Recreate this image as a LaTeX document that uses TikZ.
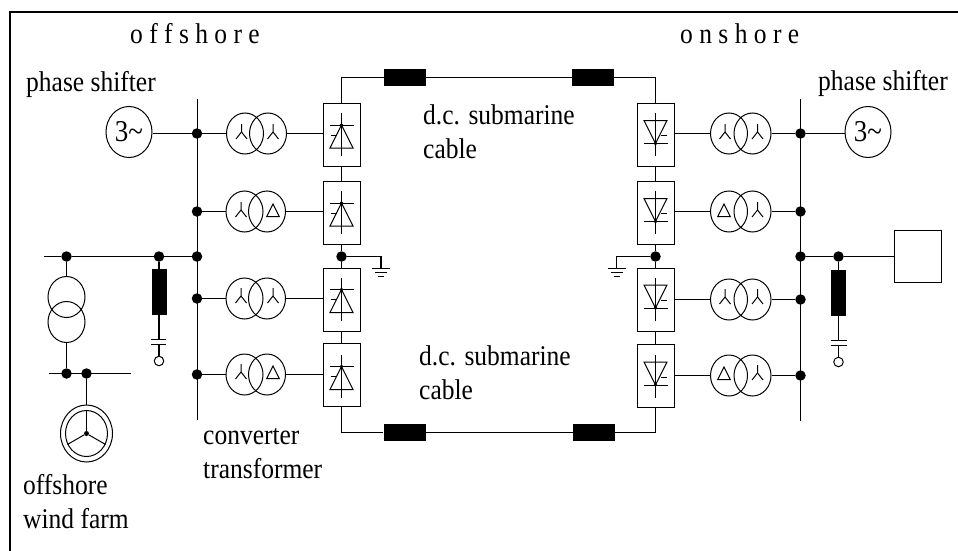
\documentclass[tikz,border=0pt]{standalone}
\usepackage{tikz}
\usepackage{xcolor}
\usepackage{fontspec}
\setmainfont{Liberation Serif}
\usetikzlibrary{shapes.geometric}

\tikzset{
  wire/.style={line width=1.1pt},
  label/.style={inner sep=0pt,anchor=base west,font=\fontsize{25.5}{29.5}\selectfont,align=left,yscale=1.12,transform shape},
  dotnode/.style={circle,fill=black,draw=none,minimum size=10.5pt,inner sep=0pt},
  winding/.style={ellipse,draw=black,line width=1pt,minimum width=37pt,minimum height=41pt,inner sep=0pt},
  genset/.style={ellipse,draw=black,line width=1pt,minimum width=46pt,minimum height=51pt,inner sep=0pt,font=\fontsize{27}{30}\selectfont},
  valvebox/.style={rectangle,draw=black,line width=1pt,minimum width=37pt,minimum height=63pt,inner sep=0pt},
  cablebox/.style={rectangle,fill=black,draw=none,minimum width=42pt,minimum height=16.5pt,inner sep=0pt},
  reactor/.style={rectangle,fill=black,draw=none,minimum width=15pt,minimum height=46pt,inner sep=0pt},
  terminal/.style={circle,draw=black,line width=1pt,minimum size=9.5pt,inner sep=0pt},
  plate/.style={line width=1pt},
  % winding symbols, star and delta
  stary/.pic={\draw[line width=1pt] (0,-10) -- (0,-2) -- (-5.5,5); \draw[line width=1pt] (0,-2) -- (5.5,5);},
  deltay/.pic={\draw[line width=1pt] (0,-8) -- (-6.3,4.5) -- (6.3,4.5) -- cycle;},
  % thyristor symbols
  valveup/.pic={
    \draw[line width=1pt] (0,-21.5) -- (0,21.5);
    \draw[line width=1pt] (-12,-9.5) -- (12,-9.5);
    \draw[line width=1pt] (0,-9.5) -- (-11.5,13.5) -- (11.5,13.5) -- cycle;
    \draw[line width=1pt] (-11,0.5) -- (-5,0.5);
    \fill (0,-9.5) circle (1.8);},
  valvedown/.pic={
    \draw[line width=1pt] (0,-21.5) -- (0,21.5);
    \draw[line width=1pt] (-12,9) -- (12,9);
    \draw[line width=1pt] (0,9) -- (-11.5,-14) -- (11.5,-14) -- cycle;
    \draw[line width=1pt] (11,1) -- (5,1);
    \fill (0,9) circle (1.8);},
}

\begin{document}
\begin{tikzpicture}[x=1pt,y=-1pt]
\useasboundingbox (0,0) rectangle (958,551);
\draw[line width=1.7pt] (958,12) -- (10,12) -- (10,551);

% labels
\node[label] (offlabel) at (130,44) {o f f s h o r e};
\node[label] (onlabel) at (680,44) {o n s h o r e};
\node[label] (leftshifter) at (26,91) {phase shifter};
\node[label] (rightshifter) at (818,90) {phase shifter};
\node[label] (uppercable) at (423,158) {d.c. submarine\\cable};
\node[label] (lowercable) at (419,399) {d.c. submarine\\cable};
\node[label] (convlabel) at (203,478) {converter\\transformer};
\node[label] (farmlabel) at (23,528) {offshore\\wind farm};

% offshore bus
\coordinate (offtop) at (197.5,99);
\coordinate (offbottom) at (197.5,420);
\draw[wire] (offtop) -- (offbottom);
\node[dotnode] (offa) at (197,133.5) {};
\node[dotnode] (offb) at (197,211.5) {};
\node[dotnode] (offc) at (197,256.5) {};
\node[dotnode] (offd) at (197,298.5) {};
\node[dotnode] (offe) at (197,374.5) {};
\node[genset] (offgen) at (129,132) {\scalebox{1}[1.12]{3\char`~}};
\draw[wire] (offgen.east |- offa) -- (offa);

% offshore converter transformers
\node[winding] (offal) at (245,133.5) {};
\node[winding] (offar) at (268,133.5) {};
\node[winding] (offbl) at (244.5,211.5) {};
\node[winding] (offbr) at (267,211.5) {};
\node[winding] (offdl) at (244.5,298.5) {};
\node[winding] (offdr) at (267,298.5) {};
\node[winding] (offel) at (244.5,374.5) {};
\node[winding] (offer) at (267,374.5) {};
\pic at (241.5,134) {stary};
\pic at (273,134) {stary};
\pic at (241,212) {stary};
\pic at (273,212) {deltay};
\pic at (241,298) {stary};
\pic at (273,298) {stary};
\pic at (241,374) {stary};
\pic at (273,374) {deltay};

% offshore converters
\node[valvebox] (vala) at (341.5,134.5) {};
\node[valvebox] (valb) at (341.5,212.5) {};
\node[valvebox] (valc) at (341.5,299.5) {};
\node[valvebox] (vald) at (341.5,375) {};
\pic at (341.5,134.5) {valveup};
\pic at (341.5,212.5) {valveup};
\pic at (341.5,299) {valveup};
\pic at (341.5,376) {valveup};
\draw[wire] (offa) -- (offal);
\draw[wire] (offb) -- (offbl);
\draw[wire] (offd) -- (offdl);
\draw[wire] (offe) -- (offel);
\draw[wire] (offar) -- (vala.west |- offar);
\draw[wire] (offbr) -- (valb.west |- offbr);
\draw[wire] (offdr) -- (valc.west |- offdr);
\draw[wire] (offer) -- (vald.west |- offer);
\draw[wire] (vala) -- (valb);
\draw[wire] (valc) -- (vald);
\node[dotnode] (offmid) at (341.5,256.5) {};
\draw[wire] (valb) -- (offmid) -- (valc);

% offshore earth
\coordinate (offearth) at (381,268);
\draw[wire] (offmid) -| (offearth);
\draw[plate] (372,268.5) -- (390,268.5);
\draw[plate] (375,272.5) -- (387,272.5);
\draw[plate] (378,276.5) -- (384,276.5);

% wind farm side
\coordinate (farmwest) at (44,256.5);
\node[dotnode] (farmtop) at (66.5,256.5) {};
\node[dotnode] (offfilter) at (159,256.5) {};
\draw[wire] (farmwest) -- (farmtop) -- (offfilter) -- (offc);
\node[winding] (farmta) at (66.5,297) {};
\node[winding] (farmtb) at (66.5,322) {};
\draw[wire] (farmtop) -- (farmta);
\coordinate (farmbusw) at (49,373.5);
\coordinate (farmbuse) at (131,373.5);
\draw[wire] (farmbusw) -- (farmbuse);
\node[dotnode] (farmbelow) at (66.5,373.5) {};
\node[dotnode] (farmfeed) at (86.5,373.5) {};
\draw[wire] (farmtb) -- (farmbelow);
\node[ellipse,draw=black,line width=1pt,minimum width=52pt,minimum height=57pt,inner sep=0pt] (turbine) at (86.5,433.5) {};
\node[ellipse,draw=black,line width=1pt,minimum width=42pt,minimum height=46pt,inner sep=0pt] (rotor) at (86.5,433.5) {};
\node[circle,fill=black,minimum size=5pt,inner sep=0pt] (hub) at (86.5,433.5) {};
\draw[wire] (farmfeed) -- (turbine);
\draw[line width=1pt] (hub) -- (rotor.north);
\draw[line width=1pt] (hub) -- (rotor.-150);
\draw[line width=1pt] (hub) -- (rotor.-30);

% offshore filter
\node[reactor] (offreactor) at (159,292) {};
\node[terminal] (offterm) at (159,361) {};
\coordinate (offcapa) at (159,339);
\coordinate (offcapb) at (159,344);
\draw[wire] (offfilter) -- (offreactor);
\draw[wire] (offreactor.south) -- (offcapa);
\draw[wire] (offcapb) -- (offterm);
\draw[plate] (151,339) -- (166,339);
\draw[plate] (151,344) -- (166,344);

% onshore bus
\coordinate (ontop) at (800.5,99);
\coordinate (onbottom) at (800.5,421);
\draw[wire] (ontop) -- (onbottom);
\node[dotnode] (ona) at (800.5,133.5) {};
\node[dotnode] (onb) at (800.5,211.5) {};
\node[dotnode] (onc) at (800.5,256.5) {};
\node[dotnode] (ond) at (800.5,299.5) {};
\node[dotnode] (one) at (800.5,375.5) {};
\node[genset] (ongen) at (868,132) {\scalebox{1}[1.12]{3\char`~}};
\draw[wire] (ongen.west |- ona) -- (ona);

% onshore converter transformers
\node[winding] (onal) at (729,133.5) {};
\node[winding] (onar) at (752.5,133.5) {};
\node[winding] (onbl) at (729,211.5) {};
\node[winding] (onbr) at (752.5,211.5) {};
\node[winding] (ondl) at (729,299.5) {};
\node[winding] (ondr) at (752.5,299.5) {};
\node[winding] (onel) at (729,375.5) {};
\node[winding] (oner) at (752.5,375.5) {};
\pic at (725,134) {stary};
\pic at (757.5,134) {stary};
\pic at (724,212) {deltay};
\pic at (757.5,212) {stary};
\pic at (725,299) {stary};
\pic at (757.5,299) {stary};
\pic at (724,375) {deltay};
\pic at (757.5,375) {stary};

% onshore converters
\node[valvebox] (vale) at (655.5,134.5) {};
\node[valvebox] (valf) at (655.5,212.5) {};
\node[valvebox] (valg) at (655.5,300) {};
\node[valvebox] (valh) at (655.5,376) {};
\pic at (655.5,134.5) {valvedown};
\pic at (655.5,212.5) {valvedown};
\pic at (655.5,299) {valvedown};
\pic at (655.5,376) {valvedown};
\draw[wire] (ona) -- (onar);
\draw[wire] (onb) -- (onbr);
\draw[wire] (ond) -- (ondr);
\draw[wire] (one) -- (oner);
\draw[wire] (onal) -- (vale.east |- onal);
\draw[wire] (onbl) -- (valf.east |- onbl);
\draw[wire] (ondl) -- (valg.east |- ondl);
\draw[wire] (onel) -- (valh.east |- onel);
\draw[wire] (vale) -- (valf);
\draw[wire] (valg) -- (valh);
\node[dotnode] (onmid) at (655.5,256.5) {};
\draw[wire] (valf) -- (onmid) -- (valg);

% onshore earth
\coordinate (onearth) at (616.5,268);
\draw[wire] (onmid) -| (onearth);
\draw[plate] (607.5,268.5) -- (625.5,268.5);
\draw[plate] (610.5,272.5) -- (622.5,272.5);
\draw[plate] (613.5,276.5) -- (619.5,276.5);

% onshore filter and load
\node[rectangle,draw=black,line width=1pt,minimum width=47pt,minimum height=51.5pt,inner sep=0pt] (grid) at (918,256.5) {};
\node[dotnode] (onfilter) at (838.5,256.5) {};
\draw[wire] (onc) -- (onfilter) -- (grid);
\node[reactor] (onreactor) at (838.5,293) {};
\node[terminal] (onterm) at (838.5,362) {};
\coordinate (oncapa) at (838.5,340);
\coordinate (oncapb) at (838.5,345);
\draw[wire] (onfilter) -- (onreactor);
\draw[wire] (onreactor.south) -- (oncapa);
\draw[wire] (oncapb) -- (onterm);
\draw[plate] (830.5,340) -- (846.5,340);
\draw[plate] (830.5,345) -- (846.5,345);

% submarine cables
\node[cablebox] (cablea) at (405,77.5) {};
\node[cablebox] (cableb) at (593,77.5) {};
\node[cablebox] (cablec) at (404.5,432.5) {};
\node[cablebox] (cabled) at (594,432.5) {};
\draw[wire] (vala) |- (cablea);
\draw[wire] (cablea) -- (cableb);
\draw[wire] (cableb) -| (vale);
\draw[wire] (vald) |- (cablec);
\draw[wire] (cablec) -- (cabled);
\draw[wire] (cabled) -| (valh);
\end{tikzpicture}
\end{document}
